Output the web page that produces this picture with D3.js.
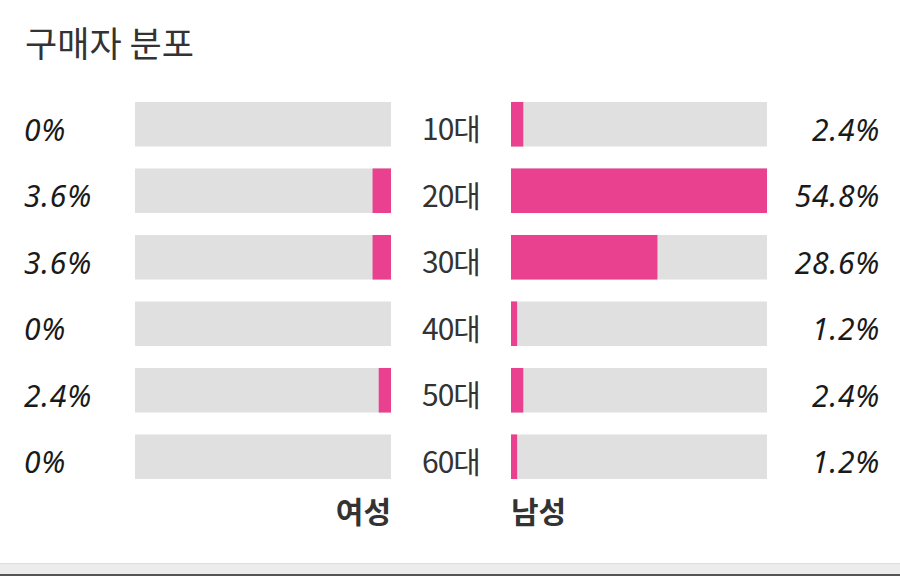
<!DOCTYPE html>
<html><head><meta charset="utf-8">
<script src="https://cdn.jsdelivr.net/npm/d3@7"></script>
<style>body{margin:0;background:#fff}svg{display:block}</style>
</head><body>
<svg id="chart" width="900" height="576"></svg>
<script>
const ages = ["10대","20대","30대","40대","50대","60대"];
const female = [0, 3.6, 3.6, 0, 2.4, 0];
const male = [2.4, 54.8, 28.6, 1.2, 2.4, 1.2];
const femaleLabels = ["0%","3.6%","3.6%","0%","2.4%","0%"];
const maleLabels = ["2.4%","54.8%","28.6%","1.2%","2.4%","1.2%"];
const title = "구매자 분포";
const groupNames = ["여성","남성"];

const svg = d3.select("#chart");
const pink = "#e9408f", gray = "#e0e0e0", textCol = "#1a1a1a";
const kr = "'Noto Sans CJK KR','Noto Sans',sans-serif";

const y = d3.scaleBand().domain(ages).range([91, 490]).paddingInner(0.33).paddingOuter(0.165);
const barW = 256;
const w = d3.scaleLinear().domain([0, 50]).range([0, barW]).clamp(true);
const fX = 135, mX = 511;

svg.append("text").attr("x", 25).attr("y", 57).attr("font-family", kr)
  .attr("font-size", 35).attr("fill", "#333").text(title);

const rows = svg.selectAll("g.row").data(ages).join("g").attr("class","row");
rows.append("rect").attr("x", fX).attr("y", d => y(d)).attr("width", barW).attr("height", y.bandwidth()).attr("fill", gray);
rows.append("rect").attr("x", mX).attr("y", d => y(d)).attr("width", barW).attr("height", y.bandwidth()).attr("fill", gray);
rows.append("rect").attr("x", (d,i) => fX + barW - w(female[i])).attr("y", d => y(d))
  .attr("width", (d,i) => w(female[i])).attr("height", y.bandwidth()).attr("fill", pink);
rows.append("rect").attr("x", mX).attr("y", d => y(d))
  .attr("width", (d,i) => w(male[i])).attr("height", y.bandwidth()).attr("fill", pink);

const cy = d => y(d) + y.bandwidth()/2 + 5;
rows.append("text").attr("x", 24).attr("y", cy).attr("dominant-baseline","central")
  .attr("font-family", "'Noto Sans',sans-serif").attr("font-style","italic").attr("font-size", 30)
  .attr("letter-spacing", 0.8)
  .attr("fill", textCol).text((d,i) => femaleLabels[i]);
rows.append("text").attr("x", 880).attr("y", cy).attr("dominant-baseline","central").attr("text-anchor","end")
  .attr("font-family", "'Noto Sans',sans-serif").attr("font-style","italic").attr("font-size", 30)
  .attr("letter-spacing", 0.8)
  .attr("fill", textCol).text((d,i) => maleLabels[i]);
rows.append("text").attr("x", 451).attr("y", d => y(d) + y.bandwidth()/2 + 3).attr("dominant-baseline","central").attr("text-anchor","middle")
  .attr("font-family", kr).attr("font-size", 30).attr("letter-spacing", -1)
  .attr("fill", "#333").text(d => d);

svg.append("text").attr("x", fX + barW).attr("y", 523).attr("text-anchor","end")
  .attr("font-family", kr).attr("font-weight", 700).attr("font-size", 30).attr("fill", "#333").text(groupNames[0]);
svg.append("text").attr("x", mX).attr("y", 523).attr("text-anchor","start")
  .attr("font-family", kr).attr("font-weight", 700).attr("font-size", 30).attr("fill", "#333").text(groupNames[1]);

svg.append("rect").attr("x", 0).attr("y", 563).attr("width", 900).attr("height", 11).attr("fill", "#ececec");
svg.append("rect").attr("x", 0).attr("y", 563).attr("width", 900).attr("height", 1).attr("fill", "#dedede");
svg.append("rect").attr("x", 0).attr("y", 574).attr("width", 900).attr("height", 2).attr("fill", "#555");
</script>
</body></html>
